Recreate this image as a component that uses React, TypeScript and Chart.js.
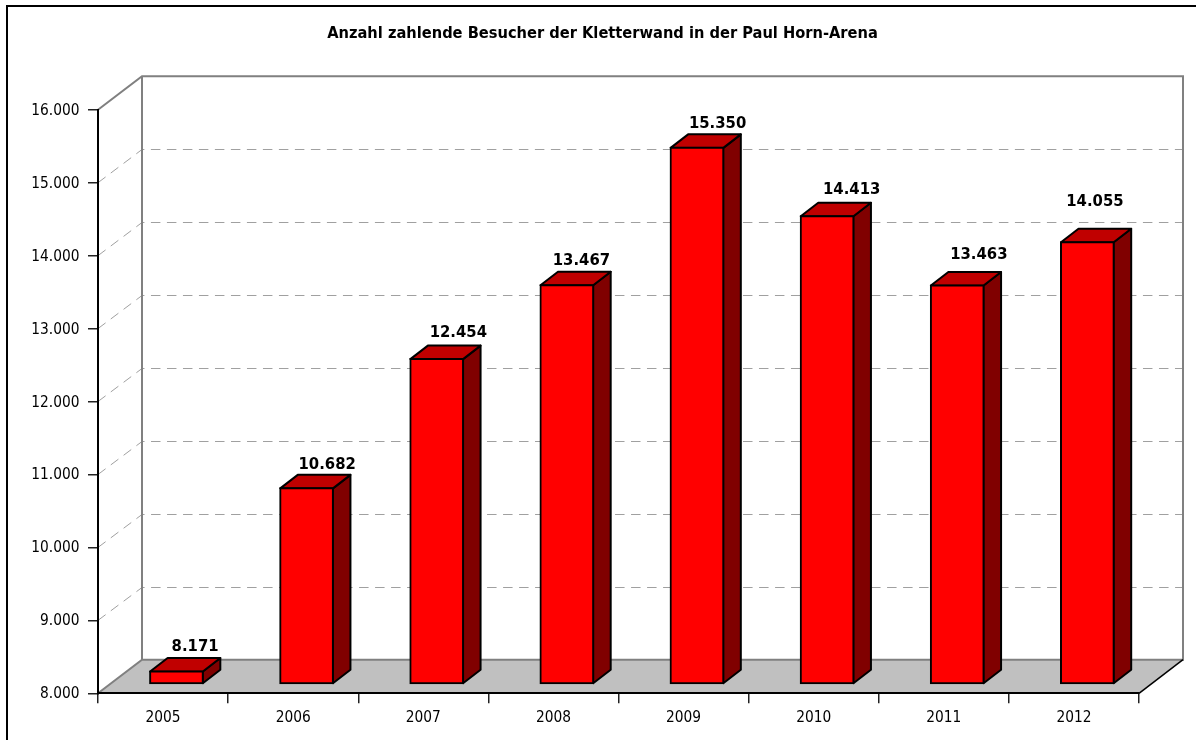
import React, { useEffect, useRef } from "react";
import { Chart, registerables } from "chart.js";

Chart.register(...registerables);

const years = ["2005", "2006", "2007", "2008", "2009", "2010", "2011", "2012"];
const visitors = [8171, 10682, 12454, 13467, 15350, 14413, 13463, 14055];
const labelShiftX = [32, 34, 35, 28, 34, 38, 35, 21];
const labelShiftY = [-33.7, -32.7, -35.7, -33.7, -33.7, -35.7, -39.7, -49.7];
const chartTitle = "Anzahl zahlende Besucher der Kletterwand in der Paul Horn-Arena";

const WALL_X = 44;
const WALL_Y = -33.6;
const BAR_X = 13.4;
const BAR_Y = -9.3;
const DEPTH_X = 17.5;
const DEPTH_Y = -13.5;
const FONT = '"DejaVu Sans Condensed", "DejaVu Sans", sans-serif';

const fmt = (v: number) => String(v).replace(/\B(?=(\d{3})+$)/, ".");

function poly(ctx: CanvasRenderingContext2D, pts: number[][]) {
  ctx.beginPath();
  pts.forEach(([x, y], i) => (i ? ctx.lineTo(x, y) : ctx.moveTo(x, y)));
  ctx.closePath();
}

const scene3d = {
  id: "scene3d",
  afterLayout(chart: any) {
    const t = chart.titleBlock;
    const w = t.right - t.left;
    t.left = 602.5 - w / 2;
    t.right = 602.5 + w / 2;
  },
  beforeDraw(chart: any) {
    const { ctx, chartArea: a, scales } = chart;
    ctx.save();
    ctx.fillStyle = "#ffffff";
    ctx.fillRect(0, 0, chart.width, chart.height);

    // nudge the value-axis labels onto their reference baseline
    if (!scales.y.$nudged) {
      scales.y.getLabelItems().forEach((it: any) => {
        it.options.translation[1] += 1;
      });
      scales.y.$nudged = true;
    }

    // outer frame
    ctx.strokeStyle = "#000000";
    ctx.lineWidth = 2;
    ctx.beginPath();
    ctx.moveTo(7, chart.height);
    ctx.lineTo(7, 6);
    ctx.lineTo(chart.width, 6);
    ctx.stroke();

    const l = a.left, r = a.right, t = a.top, b = a.bottom;
    // floor
    ctx.fillStyle = "#c0c0c0";
    poly(ctx, [[l, b], [l + WALL_X, b + WALL_Y], [r + WALL_X, b + WALL_Y], [r, b]]);
    ctx.fill();

    // dashed gridlines on side and back wall
    ctx.strokeStyle = "#a0a0a0";
    ctx.lineWidth = 1;
    ctx.setLineDash([9.5, 6.5]);
    scales.y.ticks.forEach((tk: any) => {
      if (tk.value <= scales.y.min || tk.value >= scales.y.max) return;
      const y = scales.y.getPixelForValue(tk.value);
      const yBack = Math.round(y + WALL_Y) + 0.5;
      ctx.beginPath();
      ctx.moveTo(l, y);
      ctx.lineTo(l + WALL_X, yBack);
      ctx.lineTo(r + WALL_X, yBack);
      ctx.stroke();
    });
    ctx.setLineDash([]);

    // wall edges
    ctx.strokeStyle = "#808080";
    ctx.lineWidth = 2;
    ctx.beginPath();
    ctx.moveTo(l, t);
    ctx.lineTo(l + WALL_X, t + WALL_Y);
    ctx.lineTo(r + WALL_X, t + WALL_Y);
    ctx.lineTo(r + WALL_X, b + WALL_Y);
    ctx.lineTo(l + WALL_X, b + WALL_Y);
    ctx.lineTo(l, b);
    ctx.moveTo(l + WALL_X, t + WALL_Y);
    ctx.lineTo(l + WALL_X, b + WALL_Y);
    ctx.stroke();
    ctx.strokeStyle = "#000000";
    ctx.lineWidth = 1.5;
    ctx.beginPath();
    ctx.moveTo(r, b);
    ctx.lineTo(r + WALL_X, b + WALL_Y);
    ctx.stroke();
    ctx.restore();
  },
  beforeDatasetDraw(chart: any) {
    const { ctx } = chart;
    const meta = chart.getDatasetMeta(0);
    ctx.save();
    ctx.translate(BAR_X, BAR_Y);
    ctx.strokeStyle = "#000000";
    ctx.lineWidth = 2;
    ctx.lineJoin = "round";
    meta.data.forEach((bar: any) => {
      const x0 = bar.x - bar.width / 2;
      const x1 = bar.x + bar.width / 2;
      const top = bar.y;
      const base = bar.base;
      ctx.fillStyle = "#800000";
      poly(ctx, [[x1, top], [x1 + DEPTH_X, top + DEPTH_Y], [x1 + DEPTH_X, base + DEPTH_Y], [x1, base]]);
      ctx.fill();
      ctx.stroke();
      ctx.fillStyle = "#c00000";
      poly(ctx, [[x0, top], [x0 + DEPTH_X, top + DEPTH_Y], [x1 + DEPTH_X, top + DEPTH_Y], [x1, top]]);
      ctx.fill();
      ctx.stroke();
    });
    ctx.restore();
    ctx.save();
    ctx.translate(BAR_X, BAR_Y);
  },
  afterDatasetDraw(chart: any) {
    const { ctx, scales } = chart;
    ctx.restore();
    ctx.save();
    ctx.fillStyle = "#000000";
    ctx.font = `bold 16.5px ${FONT}`;
    ctx.textAlign = "center";
    ctx.textBaseline = "middle";
    visitors.forEach((v, i) => {
      const x = scales.x.getPixelForValue(i) + labelShiftX[i];
      const y = scales.y.getPixelForValue(v) + labelShiftY[i];
      ctx.fillText(fmt(v), x, y);
    });
    ctx.restore();
  },
};

export default function App() {
  const ref = useRef<HTMLCanvasElement>(null);
  useEffect(() => {
    document.body.style.margin = "0";
    const chart = new Chart(ref.current!, {
      type: "bar",
      data: {
        labels: years,
        datasets: [
          {
            data: visitors,
            base: 8000,
            backgroundColor: "#ff0000",
            borderColor: "#000000",
            borderWidth: 2,
            borderSkipped: false,
            inflateAmount: 1,
            barThickness: 52.7,
            clip: false,
          },
        ],
      },
      options: {
        animation: false,
        responsive: false,
        devicePixelRatio: 1,
        layout: { padding: { right: 57, left: 0, top: 0, bottom: 0 } },
        plugins: {
          legend: { display: false },
          tooltip: { enabled: false },
          title: {
            display: true,
            text: chartTitle,
            color: "#000000",
            font: { family: FONT, size: 16.3, weight: "bold" },
            padding: { top: 23.5, bottom: 66.7 },
          },
        },
        scales: {
          x: {
            grid: {
              drawOnChartArea: false,
              offset: true,
              tickLength: 10,
              color: "#222222",
              lineWidth: 1.5,
            },
            border: { color: "#000000", width: 2 },
            ticks: { color: "#000000", font: { family: FONT, size: 15.3 }, padding: 6, maxRotation: 0 },
            afterFit: (s: any) => {
              s.height = 46.7;
            },
          },
          y: {
            min: 8000,
            max: 16000,
            grid: { drawOnChartArea: false, tickLength: 10, color: "#222222", lineWidth: 1.5 },
            border: { color: "#000000", width: 2 },
            ticks: {
              stepSize: 1000,
              color: "#000000",
              font: { family: FONT, size: 15.3 },
              padding: 8.5,
              callback: (v: any) => fmt(Number(v)),
            },
            afterFit: (s: any) => {
              s.width = 98;
            },
          },
        },
      },
      plugins: [scene3d],
    } as any);
    return () => chart.destroy();
  }, []);
  return <canvas ref={ref} width={1196} height={740} style={{ display: "block" }} />;
}
